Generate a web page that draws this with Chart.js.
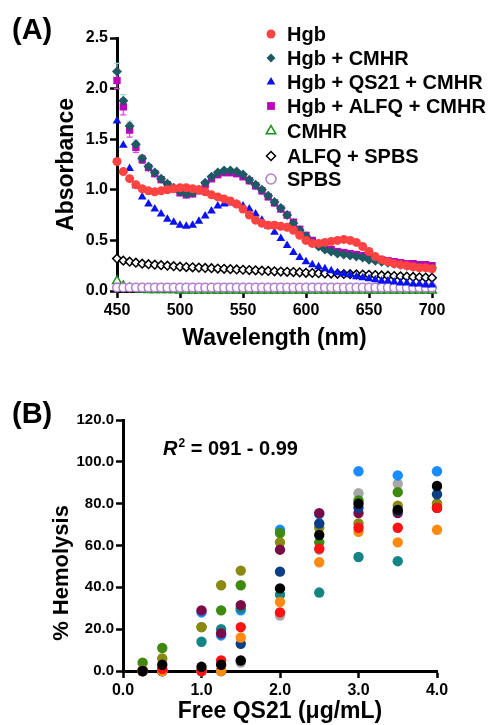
<!DOCTYPE html>
<html><head><meta charset="utf-8">
<script src="https://cdn.jsdelivr.net/npm/chart.js@4.4.1/dist/chart.umd.min.js"></script>
<style>
html,body{margin:0;padding:0;background:#fff;}
#wa{position:absolute;left:0;top:0;width:497px;height:360px;}
#wb{position:absolute;left:0;top:370px;width:497px;height:355px;}
</style></head><body>
<div id="wa"><canvas id="ca" width="497" height="360"></canvas></div>
<div id="wb"><canvas id="cb" width="497" height="355"></canvas></div>
<script>
// ---------- Panel A data ----------
const wavelengths = [450,455,460,465,470,475,480,485,490,495,500,505,510,515,520,525,530,535,540,545,550,555,560,565,570,575,580,585,590,595,600,605,610,615,620,625,630,635,640,645,650,655,660,665,670,675,680,685,690,695,700];
const hgb = [1.28,1.18,1.11,1.05,1.01,0.99,0.98,0.99,1.00,1.01,1.02,1.02,1.01,1.00,0.98,0.95,0.93,0.91,0.89,0.86,0.81,0.75,0.70,0.67,0.65,0.65,0.64,0.63,0.60,0.55,0.50,0.47,0.47,0.48,0.49,0.50,0.51,0.50,0.48,0.44,0.39,0.34,0.31,0.29,0.27,0.26,0.25,0.24,0.23,0.23,0.22];
const hgbCmhr = [2.17,1.88,1.63,1.45,1.31,1.23,1.17,1.11,1.06,1.02,0.98,0.96,0.97,1.00,1.07,1.13,1.17,1.19,1.19,1.18,1.15,1.10,1.05,1.00,0.94,0.88,0.82,0.75,0.67,0.60,0.54,0.48,0.44,0.41,0.39,0.37,0.36,0.35,0.34,0.33,0.31,0.30,0.29,0.28,0.27,0.26,0.25,0.24,0.24,0.23,0.23];
const hgbCmhrErr = [0.08,0.06,0.05,0.04,0.03,0.02,0.02,0.02,0.02,0.02,0.02,0.02,0.02,0.02,0.02,0.02,0.02,0.02,0.02,0.02,0.02,0.02,0.02,0.02,0.02,0.02,0.01,0.01,0.01,0.01,0.01,0.01,0.01,0.01,0.01,0.01,0.01,0.01,0.01,0.01,0.01,0.01,0.01,0.01,0.01,0.01,0.01,0.01,0.01,0.01,0.01];
const hgbAlfqCmhr = [2.08,1.82,1.59,1.42,1.30,1.22,1.16,1.10,1.05,1.01,0.97,0.95,0.96,0.99,1.05,1.11,1.15,1.17,1.17,1.16,1.13,1.09,1.04,0.99,0.93,0.87,0.81,0.75,0.68,0.61,0.55,0.50,0.46,0.43,0.41,0.39,0.38,0.37,0.36,0.35,0.33,0.32,0.31,0.30,0.29,0.28,0.27,0.27,0.26,0.26,0.25];
const hgbAlfqCmhrErr = [0.08,0.08,0.07,0.05,0.04,0.03,0.03,0.02,0.02,0.02,0.02,0.02,0.02,0.02,0.03,0.03,0.03,0.03,0.03,0.03,0.03,0.03,0.03,0.03,0.02,0.02,0.02,0.02,0.02,0.02,0.02,0.02,0.02,0.02,0.02,0.02,0.02,0.02,0.02,0.02,0.02,0.02,0.02,0.02,0.02,0.02,0.02,0.02,0.02,0.02,0.02];
const hgbQs21Cmhr = [1.68,1.44,1.21,1.04,0.93,0.86,0.81,0.76,0.71,0.68,0.65,0.64,0.65,0.69,0.74,0.79,0.84,0.86,0.87,0.86,0.84,0.81,0.76,0.70,0.64,0.58,0.52,0.45,0.38,0.33,0.29,0.26,0.24,0.22,0.20,0.18,0.17,0.16,0.14,0.13,0.12,0.11,0.10,0.10,0.09,0.08,0.08,0.07,0.07,0.06,0.06];
const cmhr = [0.10,0.05,0.03,0.02,0.015,0.01,0.01,0.01,0.01,0.01,0.005,0.005,0.005,0.005,0.005,0.005,0.005,0.005,0.005,0.005,0.005,0.005,0.005,0.005,0.005,0.005,0.005,0.005,0.005,0.005,0.005,0.005,0.005,0.005,0.005,0.005,0.005,0.005,0.005,0.005,0.005,0.005,0.005,0.005,0.005,0.005,0.005,0.005,0.005,0.005,0.005];
const alfqSpbs = [0.32,0.30,0.29,0.28,0.27,0.265,0.26,0.255,0.25,0.245,0.24,0.237,0.234,0.231,0.228,0.225,0.222,0.219,0.216,0.213,0.21,0.207,0.204,0.201,0.198,0.195,0.192,0.19,0.187,0.184,0.18,0.178,0.176,0.174,0.172,0.17,0.168,0.166,0.164,0.162,0.16,0.157,0.154,0.151,0.148,0.145,0.142,0.139,0.136,0.133,0.13];
const spbs = [0.035,0.035,0.035,0.035,0.035,0.035,0.035,0.035,0.035,0.035,0.035,0.035,0.035,0.035,0.035,0.035,0.035,0.035,0.035,0.035,0.035,0.035,0.035,0.035,0.035,0.035,0.035,0.035,0.035,0.035,0.035,0.035,0.035,0.035,0.035,0.035,0.035,0.035,0.035,0.035,0.035,0.035,0.035,0.035,0.035,0.035,0.035,0.035,0.035,0.035,0.035];
const legendOrderA = ['Hgb','Hgb + CMHR','Hgb + QS21 + CMHR','Hgb + ALFQ + CMHR','CMHR','ALFQ + SPBS','SPBS'];
const yTicksA = [0,0.5,1.0,1.5,2.0,2.5];
const xTicksA = [450,500,550,600,650,700];

// ---------- Panel B data ----------
const qs21 = [0.25,0.5,1.0,1.25,1.5,2.0,2.5,3.0,3.5,4.0];
const hemoBlack  = [0,3,2,3,5,39.5,65,80,77,88.5];
const hemoRed    = [0,1,0,5,21,28,58.5,68.5,68.5,78];
const hemoOrange = [0,0,0,0,16,33,52,66.5,61.5,67.5];
const hemoNavy   = [0,0,0,0,13,47.5,70.5,78,76.5,84.5];
const hemoMaroon = [0,0,29,18,31.5,58,75.5,75.5,75.5,78];
const hemoOlive  = [0.5,6,21,41,48,61.5,68.5,70.5,79,80];
const hemoGreen  = [4,11,21,29,41,66,61.5,81.5,85.5,80];
const hemoTeal   = [0,0,14,20,30,36.5,37.5,54.5,52.5,78];
const hemoBlue   = [0,0.5,28,17,29,67.5,75,95.5,93.5,95.5];
const hemoGray   = [0,0,0,0,4,26.5,58,85,89.5,88];
const yTicksB = [0,20,40,60,80,100,120];
const xTicksB = [0,1,2,3,4];

const FONT = '"Liberation Sans", Arial, Helvetica, sans-serif';
Chart.defaults.font.family = FONT;
Chart.defaults.color = '#000';

function pts(xs, ys){ return xs.map((x,i)=>({x:x,y:ys[i]})); }

function marker(ctx, style, x, y, r, fill, stroke, lw){
  ctx.beginPath();
  if(style==='circle'){ ctx.arc(x,y,r,0,Math.PI*2); }
  else if(style==='rect'){ const s=r*Math.SQRT1_2; ctx.rect(x-s,y-s,2*s,2*s); }
  else if(style==='rectRot'){ ctx.moveTo(x,y-r); ctx.lineTo(x+r,y); ctx.lineTo(x,y+r); ctx.lineTo(x-r,y); ctx.closePath(); }
  else if(style==='triangle'){
    const a=2*Math.PI/3; let rad=0;
    ctx.moveTo(x+Math.sin(rad)*r, y-Math.cos(rad)*r); rad+=a;
    ctx.lineTo(x+Math.sin(rad)*r, y-Math.cos(rad)*r); rad+=a;
    ctx.lineTo(x+Math.sin(rad)*r, y-Math.cos(rad)*r); ctx.closePath();
  }
  ctx.fillStyle=fill; ctx.fill();
  if(lw){ ctx.lineWidth=lw; ctx.strokeStyle=stroke; ctx.stroke(); }
}

const errorBars = {
  id:'errorBars',
  beforeDatasetsDraw(chart){
    const ctx=chart.ctx, ys=chart.scales.y;
    chart.data.datasets.forEach((ds,i)=>{
      if(!ds.errors) return;
      const meta=chart.getDatasetMeta(i);
      ctx.save(); ctx.strokeStyle=ds.errColor; ctx.lineWidth=1.2;
      meta.data.forEach((p,j)=>{
        const e=ds.errors[j]; if(!e) return;
        const v=ds.data[j].y;
        const y1=ys.getPixelForValue(v+e), y2=ys.getPixelForValue(v-e);
        ctx.beginPath(); ctx.moveTo(p.x,y1); ctx.lineTo(p.x,y2);
        ctx.moveTo(p.x-3,y1); ctx.lineTo(p.x+3,y1);
        ctx.moveTo(p.x-3,y2); ctx.lineTo(p.x+3,y2); ctx.stroke();
      });
      ctx.restore();
    });
  }
};

const legendA = {
  id:'legendA',
  afterDraw(chart){
    const ctx=chart.ctx;
    const rowsY=[34,58,82,106,131,156,179];
    ctx.save();
    ctx.font='bold 20px '+FONT; ctx.textBaseline='middle'; ctx.textAlign='left'; ctx.fillStyle='#000';
    legendOrderA.forEach((lab,k)=>{
      const ds=chart.data.datasets.find(d=>d.label===lab);
      marker(ctx, ds.pointStyle, 271, rowsY[k], ds.legendRadius, ds.pointBackgroundColor, ds.pointBorderColor, ds.pointBorderWidth);
      ctx.fillStyle='#000';
      ctx.fillText(lab, 287, rowsY[k]+1);
    });
    ctx.font='bold 29px '+FONT; ctx.textBaseline='middle';
    ctx.fillText('(A)', 12, 31);
    ctx.restore();
  }
};

const labelsB = {
  id:'labelsB',
  afterDraw(chart){
    const ctx=chart.ctx;
    ctx.save(); ctx.fillStyle='#000'; ctx.textBaseline='alphabetic'; ctx.textAlign='left';
    ctx.font='bold 29px '+FONT;
    ctx.fillText('(B)', 12, 53);
    let x=163, base=85;
    ctx.font='italic bold 20px '+FONT; ctx.fillText('R', x, base); x+=ctx.measureText('R').width;
    ctx.font='bold 12px '+FONT; ctx.fillText('2', x+1, base-8); x+=ctx.measureText('2').width+1;
    ctx.font='bold 20px '+FONT; ctx.fillText(' = 091 - 0.99', x, base);
    // y-axis title, placed as in the reference (slightly below axis centre)
    ctx.translate(62, 203); ctx.rotate(-Math.PI/2);
    ctx.font='bold 22px '+FONT; ctx.textAlign='center'; ctx.textBaseline='middle';
    ctx.fillText('% Hemolysis', 0, 0);
    ctx.restore();
  }
};

function axisCommon(){
  return {
    grid:{display:true, drawOnChartArea:false, drawTicks:true, tickLength:7, tickWidth:2.5, tickColor:'#000', color:'#000'},
    border:{display:true, color:'#000', width:3},
  };
}

// ---------- Chart A ----------
const dsA = [
  {label:'Hgb', data:pts(wavelengths,hgb), pointStyle:'circle', pointRadius:4.5, legendRadius:4.5, pointBackgroundColor:'#ff4242', pointBorderColor:'#ff4242', pointBorderWidth:0},
  {label:'Hgb + CMHR', data:pts(wavelengths,hgbCmhr), pointStyle:'rectRot', pointRadius:5, legendRadius:4.5, pointBackgroundColor:'#1c5b63', pointBorderColor:'#1c5b63', pointBorderWidth:0, errors:hgbCmhrErr, errColor:'#9fdcd2'},
  {label:'Hgb + ALFQ + CMHR', data:pts(wavelengths,hgbAlfqCmhr), pointStyle:'rect', pointRadius:5.2, legendRadius:5.5, pointBackgroundColor:'#c000c0', pointBorderColor:'#c000c0', pointBorderWidth:0, errors:hgbAlfqCmhrErr, errColor:'#d84ad8'},
  {label:'Hgb + QS21 + CMHR', data:pts(wavelengths,hgbQs21Cmhr), pointStyle:'triangle', pointRadius:5, legendRadius:5, pointBackgroundColor:'#0a12f2', pointBorderColor:'#0a12f2', pointBorderWidth:0},
  {label:'ALFQ + SPBS', data:pts(wavelengths,alfqSpbs), pointStyle:'rectRot', pointRadius:4.3, legendRadius:4.5, pointBackgroundColor:'#fff', pointBorderColor:'#000', pointBorderWidth:1.5},
  {label:'SPBS', data:pts(wavelengths,spbs), pointStyle:'circle', pointRadius:4.3, legendRadius:5, pointBackgroundColor:'#fff', pointBorderColor:'#b27ccf', pointBorderWidth:1.5},
  {label:'CMHR', data:pts(wavelengths,cmhr), pointStyle:'triangle', pointRadius:5, legendRadius:5.5, pointBackgroundColor:'#fff', pointBorderColor:'#1b8f1b', pointBorderWidth:1.5},
];
dsA.forEach(d=>{d.showLine=false; d.clip=false;});

new Chart(document.getElementById('ca'), {
  type:'scatter',
  data:{datasets:dsA},
  options:{
    responsive:false, animation:false, devicePixelRatio:1,
    layout:{padding:{left:0,right:65,top:38,bottom:0}},
    plugins:{legend:{display:false}, tooltip:{enabled:false}},
    scales:{
      x:Object.assign(axisCommon(),{
        type:'linear', min:450, max:700,
        afterBuildTicks(s){ s.ticks = xTicksA.map(v=>({value:v})); },
        ticks:{font:{size:16,weight:'bold'}, color:'#000', padding:3, maxRotation:0, callback:v=>String(v)},
        title:{display:true, text:'Wavelength (nm)', font:{size:23,weight:'bold'}, color:'#000', padding:{top:0,bottom:8}},
        afterFit(s){ s.height=69; }
      }),
      y:Object.assign(axisCommon(),{
        type:'linear', min:0, max:2.5,
        afterBuildTicks(s){ s.ticks = yTicksA.map(v=>({value:v})); },
        ticks:{font:{size:16,weight:'bold'}, color:'#000', padding:2, callback:v=>Number(v).toFixed(1)},
        title:{display:true, text:'Absorbance', font:{size:23,weight:'bold'}, color:'#000', padding:{top:53,bottom:0}},
        afterFit(s){ s.width=117; }
      })
    }
  },
  plugins:[errorBars, legendA]
});

// ---------- Chart B ----------
function dsB(label, ys, color){
  return {label:label, data:pts(qs21,ys), showLine:false, clip:false, pointStyle:'circle', pointRadius:5.2, pointBackgroundColor:color, pointBorderColor:color, pointBorderWidth:0};
}
const dsListB = [
  dsB('black', hemoBlack, '#000000'),
  dsB('red', hemoRed, '#ff1212'),
  dsB('orange', hemoOrange, '#ff8a12'),
  dsB('navy', hemoNavy, '#0b3e84'),
  dsB('maroon', hemoMaroon, '#7b0b46'),
  dsB('olive', hemoOlive, '#8a8912'),
  dsB('green', hemoGreen, '#3e8a10'),
  dsB('teal', hemoTeal, '#148584'),
  dsB('lightblue', hemoBlue, '#1a8cff'),
  dsB('gray', hemoGray, '#a8a8a8'),
];

new Chart(document.getElementById('cb'), {
  type:'scatter',
  data:{datasets:dsListB},
  options:{
    responsive:false, animation:false, devicePixelRatio:1,
    layout:{padding:{left:0,right:60,top:50,bottom:0}},
    plugins:{legend:{display:false}, tooltip:{enabled:false}},
    scales:{
      x:Object.assign(axisCommon(),{
        type:'linear', min:0, max:4,
        afterBuildTicks(s){ s.ticks = xTicksB.map(v=>({value:v})); },
        ticks:{font:{size:16,weight:'bold'}, color:'#000', padding:3, maxRotation:0, callback:v=>Number(v).toFixed(1)},
        title:{display:true, text:'Free QS21 (\u03bcg/mL)', font:{size:23,weight:'bold'}, color:'#000', padding:{top:0,bottom:0}},
        afterFit(s){ s.height=54; }
      }),
      y:Object.assign(axisCommon(),{
        type:'linear', min:0, max:120,
        afterBuildTicks(s){ s.ticks = yTicksB.map(v=>({value:v})); },
        ticks:{font:{size:15,weight:'bold'}, color:'#000', padding:2, callback:v=>Number(v).toFixed(1)},
        title:{display:false},
        afterFit(s){ s.width=123; }
      })
    }
  },
  plugins:[labelsB]
});
</script>
</body></html>
